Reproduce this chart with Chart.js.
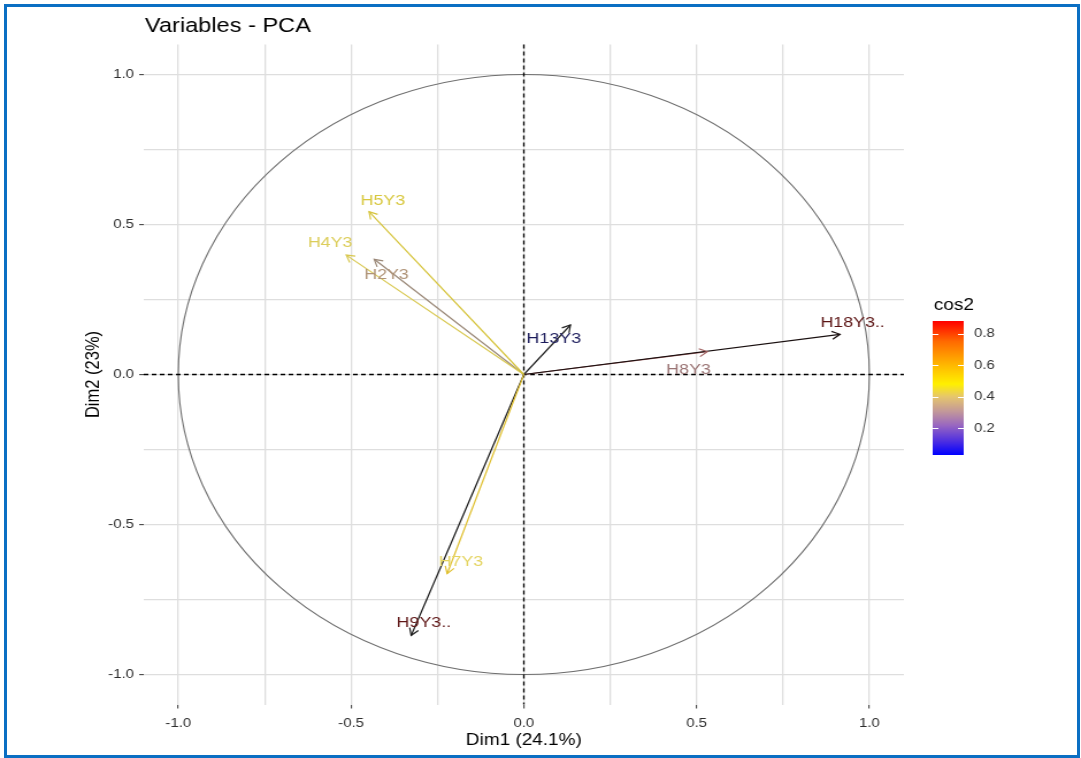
<!DOCTYPE html>
<html>
<head>
<meta charset="utf-8">
<script src="https://cdn.jsdelivr.net/npm/chart.js@4.4.0/dist/chart.umd.min.js"></script>
<style>
  html, body { margin: 0; padding: 0; background: #fff; }
  body { width: 1081px; height: 758px; overflow: hidden; position: relative; }
  /* the reference is a square ggplot panel stretched sideways, so draw square and stretch */
  #wrap { position: absolute; left: 0; top: 0; width: 940px; height: 758px; transform: scaleX(1.15); transform-origin: 0 0; }
  #frame { position: absolute; left: 4px; top: 4px; width: 1076px; height: 754px; box-sizing: border-box; border: 3px solid #0b6fc3; pointer-events: none; }
</style>
</head>
<body>
<div id="wrap"><canvas id="pcaChart" width="940" height="758"></canvas></div>
<div id="frame"></div>
<script>
const variables = ['H5Y3', 'H4Y3', 'H2Y3', 'H13Y3', 'H18Y3..', 'H8Y3', 'H7Y3', 'H9Y3..'];
const dim1 = [-0.448, -0.514, -0.433, 0.135, 0.915, 0.531, -0.222, -0.326];
const dim2 = [0.543, 0.398, 0.384, 0.165, 0.134, 0.076, -0.664, -0.870];
const lineColors = ['#d6c43c', '#d8c850', '#9a8878', '#222222', '#1a1010', '#a06060', '#e0c030', '#181818'];
const labelColors = ['#d8c840', '#dccd5a', '#b09478', '#1c1c5c', '#5c1414', '#9a7474', '#e4d460', '#601818'];
// label offset from the arrow tip, in px (repel placement)
const labelDx = [12, -14, 10.7, -14.5, 11, -16.3, 12, 11];
const labelDy = [-10.7, -12, 15, 13.5, -11.8, 17.8, -11.5, -12.5];

const axisTicks = [-1, -0.75, -0.5, -0.25, 0, 0.25, 0.5, 0.75, 1];
const axisLabels = ['-1.0', '', '-0.5', '', '0.0', '', '0.5', '', '1.0'];

const cos2Range = [0.03, 0.88];
const cos2Ticks = [0.2, 0.4, 0.6, 0.8];
const cos2Stops = [
    [0.03, '#0000ff'],
    [0.12, '#5030e0'],
    [0.22, '#9a68c0'],
    [0.31, '#c49a98'],
    [0.40, '#e6c66c'],
    [0.48, '#fff000'],
    [0.60, '#ffb800'],
    [0.75, '#ff6a00'],
    [0.88, '#ff0000']
];

const FONT = '"Liberation Sans", Arial, sans-serif';
Chart.defaults.font.family = FONT;

const pcaDecor = {
    id: 'pcaDecor',
    beforeDatasetsDraw(chart) {
        const { ctx, chartArea: a, scales: { x, y } } = chart;
        const x0 = x.getPixelForValue(0), y0 = y.getPixelForValue(0);
        ctx.save();
        // correlation circle
        ctx.strokeStyle = '#6e6e6e';
        ctx.lineWidth = 1.1;
        ctx.beginPath();
        ctx.ellipse(x0, y0, x.getPixelForValue(1) - x0, y0 - y.getPixelForValue(1), 0, 0, Math.PI * 2);
        ctx.stroke();
        // dashed zero lines
        ctx.strokeStyle = '#000';
        ctx.lineWidth = 1.3;
        ctx.setLineDash([4, 3]);
        ctx.beginPath();
        ctx.moveTo(a.left, y0); ctx.lineTo(a.right, y0);
        ctx.moveTo(x0, a.top); ctx.lineTo(x0, a.bottom);
        ctx.stroke();
        ctx.restore();
    },
    afterDatasetsDraw(chart) {
        const { ctx } = chart;
        ctx.save();
        chart.data.datasets.forEach((ds, i) => {
            const pts = chart.getDatasetMeta(i).data;
            const base = pts[0], tip = pts[1];
            const ang = Math.atan2(tip.y - base.y, tip.x - base.x);
            const len = 8, spread = Math.PI / 6;
            ctx.strokeStyle = lineColors[i];
            ctx.lineWidth = 1.2;
            ctx.beginPath();
            ctx.moveTo(tip.x - len * Math.cos(ang - spread), tip.y - len * Math.sin(ang - spread));
            ctx.lineTo(tip.x, tip.y);
            ctx.lineTo(tip.x - len * Math.cos(ang + spread), tip.y - len * Math.sin(ang + spread));
            ctx.stroke();
        });
        ctx.font = '15.5px ' + FONT;
        ctx.textAlign = 'center';
        ctx.textBaseline = 'middle';
        chart.data.datasets.forEach((ds, i) => {
            const tip = chart.getDatasetMeta(i).data[1];
            ctx.fillStyle = labelColors[i];
            ctx.fillText(variables[i], tip.x + labelDx[i], tip.y + labelDy[i]);
        });
        ctx.restore();
    },
    afterDraw(chart) {
        const { ctx, chartArea: a } = chart;
        ctx.save();
        // title
        ctx.fillStyle = '#000';
        ctx.font = '20.5px ' + FONT;
        ctx.textAlign = 'left';
        ctx.textBaseline = 'alphabetic';
        ctx.fillText('Variables - PCA', a.left + 1, 32);

        // cos2 colour bar
        const bx = 811, bw = 27, by = 321, bh = 134;
        const span = cos2Range[1] - cos2Range[0];
        const vy = v => by + (cos2Range[1] - v) / span * bh;
        const g = ctx.createLinearGradient(0, by + bh, 0, by);
        cos2Stops.forEach(([v, c]) => g.addColorStop((v - cos2Range[0]) / span, c));
        ctx.fillStyle = g;
        ctx.fillRect(bx, by, bw, bh);
        ctx.strokeStyle = '#fff';
        ctx.lineWidth = 1;
        ctx.font = '13px ' + FONT;
        ctx.textBaseline = 'middle';
        cos2Ticks.forEach(v => {
            const ty = Math.round(vy(v)) + 0.5;
            ctx.beginPath();
            ctx.moveTo(bx, ty); ctx.lineTo(bx + 5, ty);
            ctx.moveTo(bx + bw - 5, ty); ctx.lineTo(bx + bw, ty);
            ctx.stroke();
            ctx.fillStyle = '#333';
            ctx.fillText(v.toFixed(1), bx + bw + 9, vy(v));
        });
        ctx.fillStyle = '#000';
        ctx.font = '16.5px ' + FONT;
        ctx.fillText('cos2', bx + 1, 305);
        ctx.restore();
    }
};

function axisOptions(titleText, fit, pad) {
    return {
        type: 'linear',
        min: -1.1,
        max: 1.1,
        afterBuildTicks: s => { s.ticks = axisTicks.map(v => ({ value: v })); },
        afterFit: fit,
        ticks: {
            autoSkip: false,
            maxRotation: 0,
            padding: pad,
            color: '#2e2e2e',
            font: { size: 13 },
            callback: (v, i) => axisLabels[i]
        },
        grid: {
            color: '#dedede',
            lineWidth: 1.3,
            tickLength: 4,
            tickWidth: 1,
            tickColor: c => axisLabels[c.index] ? '#333' : 'rgba(0,0,0,0)'
        },
        border: { display: false },
        title: { display: true, text: titleText, color: '#000', font: { size: 16.5 }, padding: { top: 4, bottom: 2 } }
    };
}

new Chart(document.getElementById('pcaChart'), {
    type: 'scatter',
    data: {
        datasets: variables.map((name, i) => ({
            label: name,
            data: [{ x: 0, y: 0 }, { x: dim1[i], y: dim2[i] }],
            showLine: true,
            borderColor: lineColors[i],
            borderWidth: 1.2,
            pointRadius: 0,
            pointHoverRadius: 0
        }))
    },
    options: {
        responsive: false,
        devicePixelRatio: 1,
        animation: false,
        layout: { padding: { left: 68, right: 154, top: 44.5, bottom: 6 } },
        plugins: { legend: { display: false }, tooltip: { enabled: false } },
        scales: {
            x: axisOptions('Dim1 (24.1%)', s => { s.height = 47.5; }, 7),
            y: axisOptions('Dim2 (23%)', s => { s.width = 57; }, 4.5)
        }
    },
    plugins: [pcaDecor]
});
</script>
</body>
</html>
